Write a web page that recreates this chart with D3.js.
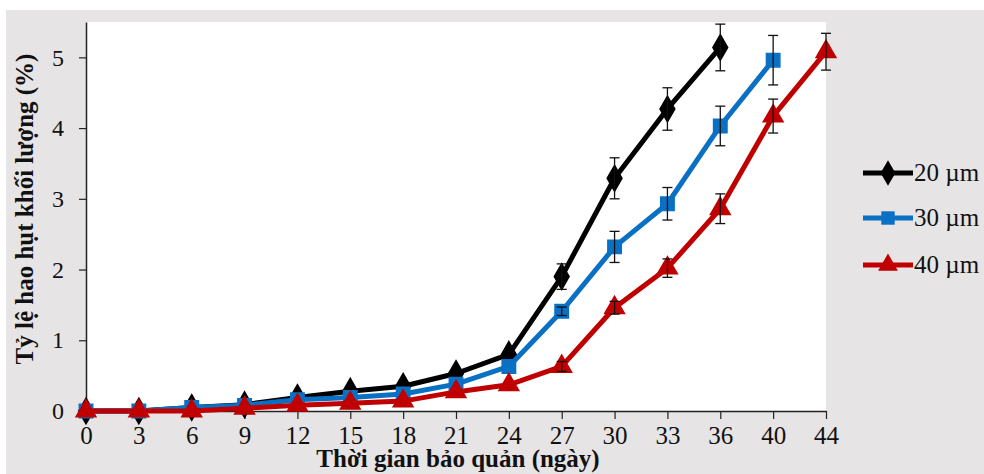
<!DOCTYPE html>
<html>
<head>
<meta charset="utf-8">
<script src="https://cdn.jsdelivr.net/npm/d3@7"></script>
<style>
  body { margin: 0; background: #fff; }
  svg text { font-family: "Liberation Serif", "Times New Roman", serif !important; }
</style>
</head>
<body>
<div id="chart"></div>
<script>
'use strict';

// storage days (category axis)
var days = ["0", "3", "6", "9", "12", "15", "18", "21", "24", "27", "30", "33", "36", "40", "44"];
var yTicks = [0, 1, 2, 3, 4, 5];

// weight loss (%) per film thickness
var loss20 = [0, 0, 0.05, 0.09, 0.19, 0.28, 0.35, 0.53, 0.8, 1.9, 3.29, 4.27, 5.14, null, null];
var loss30 = [0, 0, 0.05, 0.08, 0.16, 0.19, 0.24, 0.38, 0.63, 1.41, 2.32, 2.93, 4.03, 4.96, null];
var loss40 = [0, 0, 0, 0.04, 0.08, 0.11, 0.14, 0.27, 0.37, 0.63, 1.46, 2.02, 2.86, 4.17, 5.08];

var err20 = [0, 0, 0, 0, 0, 0, 0, 0, 0, 0.18, 0.29, 0.3, 0.33, null, null];
var err30 = [0, 0, 0, 0, 0, 0, 0, 0, 0, 0.06, 0.22, 0.23, 0.28, 0.35, null];
var err40 = [0, 0, 0, 0, 0, 0, 0, 0, 0, 0.07, 0.09, 0.13, 0.21, 0.24, 0.26];

var seriesNames = ["20 µm", "30 µm", "40 µm"];

var W = 984, H = 474;
var svg = d3.select("#chart").append("svg")
    .attr("width", W)
    .attr("height", H);

// chart area (gray) and plot area (white)
svg.append("rect")
    .attr("x", 6).attr("y", 10)
    .attr("width", W - 6).attr("height", H - 10)
    .attr("fill", "#e6e4e4");

var x = d3.scalePoint().domain(days).range([86, 826]);
var y = d3.scaleLinear().domain([0, 5.5]).range([411, 22]);

svg.append("rect")
    .attr("x", 86).attr("y", y(5.5))
    .attr("width", 826 - 86).attr("height", y(0) - y(5.5))
    .attr("fill", "#fff");

// axes
var xAxis = svg.append("g")
    .attr("transform", "translate(0," + y(0) + ")")
    .call(d3.axisBottom(x).tickSizeInner(8).tickSizeOuter(0).tickPadding(7));
xAxis.select(".domain").attr("stroke", "#222").attr("stroke-width", 1.5);
xAxis.selectAll(".tick line").attr("stroke", "#222").attr("stroke-width", 1.2);
xAxis.selectAll(".tick text")
    .style("font-size", "25px")
    .attr("fill", "#111");

var yAxis = svg.append("g")
    .attr("transform", "translate(86,0)")
    .call(d3.axisLeft(y).tickValues(yTicks).tickFormat(d3.format("d"))
        .tickSizeInner(7).tickSizeOuter(0).tickPadding(15));
yAxis.select(".domain").attr("stroke", "#222").attr("stroke-width", 1.5);
yAxis.selectAll(".tick line").attr("stroke", "#222").attr("stroke-width", 1.2);
yAxis.selectAll(".tick text")
    .style("font-size", "24px")
    .attr("fill", "#111");

// titles
svg.append("text")
    .attr("x", 458).attr("y", 467)
    .attr("text-anchor", "middle")
    .style("font-size", "25px")
    .style("font-weight", "bold")
    .attr("fill", "#111")
    .text("Thời gian bảo quản (ngày)");

svg.append("text")
    .attr("transform", "translate(33,209) rotate(-90)")
    .attr("text-anchor", "middle")
    .style("font-size", "25px")
    .style("font-weight", "bold")
    .attr("fill", "#111")
    .text("Tỷ lệ hao hụt khối lượng (%)");

// series
var series = [
    { name: seriesNames[0], values: loss20, errs: err20, color: "#000000", symbol: d3.symbolDiamond, size: 190 },
    { name: seriesNames[1], values: loss30, errs: err30, color: "#0a70c4", symbol: d3.symbolSquare, size: 180 },
    { name: seriesNames[2], values: loss40, errs: err40, color: "#c00000", symbol: d3.symbolTriangle, size: 170 }
];

var line = d3.line()
    .defined(d => d.v != null)
    .x(d => x(d.day))
    .y(d => y(d.v));

series.forEach(function(s) {
    var pts = days.map((day, i) => ({ day: day, v: s.values[i], e: s.errs[i] }))
        .filter(d => d.v != null);
    var g = svg.append("g");

    g.append("path")
        .datum(pts)
        .attr("d", line)
        .attr("fill", "none")
        .attr("stroke", s.color)
        .attr("stroke-width", 5)
        .attr("stroke-linejoin", "round");

    g.selectAll("path.mark")
        .data(pts)
        .join("path")
        .attr("class", "mark")
        .attr("transform", d => "translate(" + x(d.day) + "," + y(d.v) + ")")
        .attr("d", d3.symbol().type(s.symbol).size(s.size))
        .attr("fill", s.color)
        .attr("stroke", s.color)
        .attr("stroke-width", 1.5);

    var eb = g.selectAll("g.err")
        .data(pts.filter(d => d.e > 0))
        .join("g")
        .attr("class", "err")
        .attr("stroke", "#111")
        .attr("stroke-width", 1.3);
    eb.append("line")
        .attr("x1", d => x(d.day)).attr("x2", d => x(d.day))
        .attr("y1", d => y(d.v + d.e)).attr("y2", d => y(d.v - d.e));
    eb.append("line")
        .attr("x1", d => x(d.day) - 5).attr("x2", d => x(d.day) + 5)
        .attr("y1", d => y(d.v + d.e)).attr("y2", d => y(d.v + d.e));
    eb.append("line")
        .attr("x1", d => x(d.day) - 5).attr("x2", d => x(d.day) + 5)
        .attr("y1", d => y(d.v - d.e)).attr("y2", d => y(d.v - d.e));
});

// legend
var legend = svg.append("g");
var legY = [173, 218, 265];
series.forEach(function(s, i) {
    var row = legend.append("g").attr("transform", "translate(0," + legY[i] + ")");
    row.append("line")
        .attr("x1", 863).attr("x2", 913)
        .attr("stroke", s.color).attr("stroke-width", 5);
    row.append("path")
        .attr("transform", "translate(888,0)")
        .attr("d", d3.symbol().type(s.symbol).size(s.size))
        .attr("fill", s.color);
    row.append("text")
        .attr("x", 914).attr("y", 8)
        .style("font-size", "25px")
        .attr("fill", "#111")
        .text(s.name);
});
</script>
</body>
</html>
